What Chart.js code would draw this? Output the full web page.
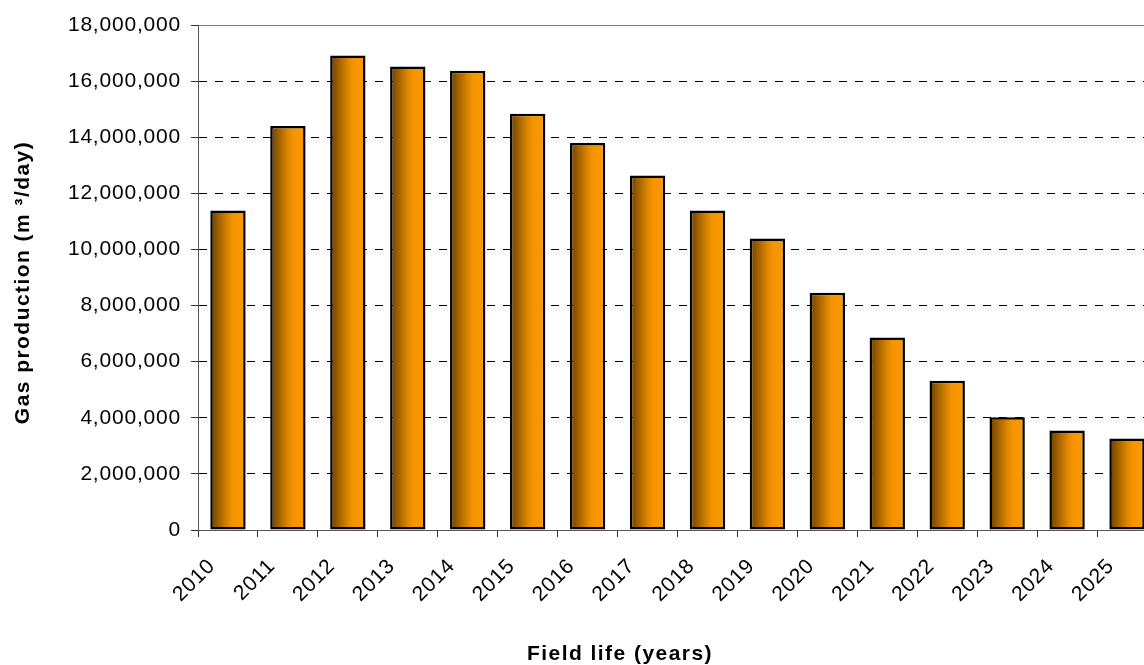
<!DOCTYPE html>
<html>
<head>
<meta charset="utf-8">
<script src="https://cdn.jsdelivr.net/npm/chart.js@4/dist/chart.umd.min.js"></script>
<style>
  html, body { margin: 0; padding: 0; background: #fff; overflow: hidden; }
  #wrap { width: 1240px; height: 665px; }
</style>
</head>
<body>
<div id="wrap"><canvas id="chart" width="1240" height="665"></canvas></div>
<script>
// Field production profile, one bar per year
const years = ['2010', '2011', '2012', '2013', '2014', '2015', '2016', '2017',
               '2018', '2019', '2020', '2021', '2022', '2023', '2024', '2025'];
const gasProduction = [11390000, 14400000, 16910000, 16520000, 16370000, 14840000,
                       13790000, 12640000, 11390000, 10390000, 8460000, 6860000,
                       5320000, 4020000, 3550000, 3260000];
const yTicks = [0, 2000000, 4000000, 6000000, 8000000, 10000000,
                12000000, 14000000, 16000000, 18000000];
const yTitle = 'Gas production (m \u00b3/day)';
const xTitle = 'Field life (years)';

const FONT = "'Liberation Sans', Arial, sans-serif";
const SPACING = '0.8px';

// Slightly wider letter spacing for tick text
const spacingPlugin = {
  id: 'spacing',
  beforeUpdate(chart) { chart.ctx.letterSpacing = SPACING; },
  beforeDraw(chart) { chart.ctx.letterSpacing = SPACING; }
};

// Axis titles: the category title is centred on the full chart width,
// the value title sits at the far left, rotated
const axisTitlesPlugin = {
  id: 'axisTitles',
  afterDraw(chart) {
    const ctx = chart.ctx;
    const area = chart.chartArea;
    ctx.save();
    ctx.letterSpacing = '1.45px';
    ctx.font = 'bold 21px ' + FONT;
    ctx.fillStyle = '#000';
    ctx.textAlign = 'center';
    ctx.textBaseline = 'alphabetic';
    ctx.fillText(xTitle, chart.width / 2, chart.height - 5);

    ctx.translate(29, (area.top + area.bottom) / 2 + 5);
    ctx.rotate(-Math.PI / 2);
    ctx.fillText(yTitle, 0, 0);
    ctx.restore();
  }
};

// Horizontal brown-to-orange shading across each bar
function barGradient(context) {
  const chart = context.chart;
  const xs = chart.scales.x;
  if (!chart.chartArea || !xs) return '#f59400';
  const cx = xs.getPixelForValue(context.dataIndex);
  const w = (xs.width / years.length) * 0.59;
  const g = chart.ctx.createLinearGradient(cx - w / 2, 0, cx + w / 2, 0);
  g.addColorStop(0, '#6a3f00');
  g.addColorStop(0.5, '#dd8600');
  g.addColorStop(0.65, '#f59400');
  g.addColorStop(1, '#fb9a00');
  return g;
}

new Chart(document.getElementById('chart'), {
  type: 'bar',
  data: {
    labels: years,
    datasets: [{
      data: gasProduction,
      backgroundColor: barGradient,
      borderColor: '#000',
      borderWidth: 2.5,
      borderSkipped: false,
      categoryPercentage: 1,
      barPercentage: 0.59
    }]
  },
  options: {
    responsive: false,
    animation: false,
    devicePixelRatio: 1,
    layout: { padding: { left: 0, right: 83, top: 25, bottom: 0 } },
    plugins: { legend: { display: false }, tooltip: { enabled: false } },
    scales: {
      x: {
        offset: true,
        grid: {
          offset: true,
          drawOnChartArea: false,
          drawTicks: true,
          tickLength: 7,
          color: '#333',
          tickColor: '#333'
        },
        border: { display: true, color: '#555', width: 1 },
        ticks: {
          color: '#000',
          font: { family: FONT, size: 21 },
          minRotation: 45,
          maxRotation: 45,
          padding: 17,
          labelOffset: -16,
          autoSkip: false
        },
        afterFit(scale) { scale.height = 135; }
      },
      y: {
        min: 0,
        max: 18000000,
        afterBuildTicks(scale) { scale.ticks = yTicks.map(v => ({ value: v })); },
        grid: {
          drawTicks: true,
          tickLength: 7,
          lineWidth: 1,
          color: (c) => {
            if (c.tick && c.tick.value === 0) return 'rgba(0,0,0,0)';
            if (c.tick && c.tick.value === 18000000) return '#808080';
            return '#000';
          },
          tickColor: '#333',
          tickBorderDash: []
        },
        border: {
          display: true,
          color: '#555',
          width: 1,
          dash: (c) => (c.tick && c.tick.value === 18000000) ? [] : [8, 8]
        },
        ticks: {
          color: '#000',
          font: { family: FONT, size: 21 },
          padding: 10,
          callback: (v) => Number(v).toLocaleString('en-US')
        },
        title: { display: false },
        afterFit(scale) { scale.width = 198; }
      }
    }
  },
  plugins: [spacingPlugin, axisTitlesPlugin]
});
</script>
</body>
</html>
